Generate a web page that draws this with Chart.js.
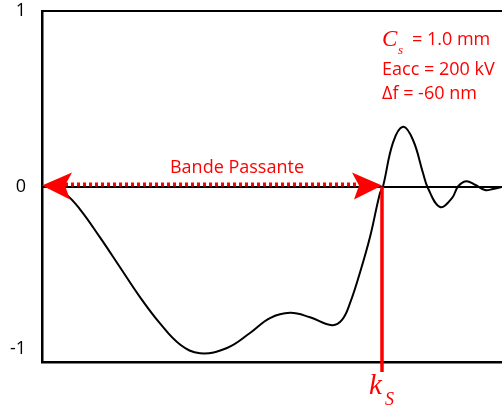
<!DOCTYPE html>
<html>
<head>
<meta charset="utf-8">
<script src="https://cdn.jsdelivr.net/npm/chart.js@4/dist/chart.umd.min.js"></script>
<style>
  html, body { margin: 0; padding: 0; background: #fff; }
  #wrap { width: 502px; height: 407px; }
</style>
</head>
<body>
<div id="wrap"><canvas id="ctf-chart"></canvas></div>
<script>
// fréquence spatiale (unités arbitraires) et fonction de transfert de contraste
const frequences = [0, 0.10, 0.23, 0.38, 0.58, 0.78, 0.98, 1.18, 1.38, 1.58, 1.85, 2.08, 2.28, 2.48, 2.68, 2.90, 3.00, 3.08, 3.18, 3.28, 3.38, 3.41, 3.51, 3.61, 3.71, 3.81, 3.86, 3.98, 4.10, 4.16, 4.24, 4.33, 4.43, 4.51, 4.60];
const ctf = [0, -0.008, -0.04, -0.13, -0.29, -0.46, -0.63, -0.78, -0.90, -0.95, -0.92, -0.835, -0.75, -0.72, -0.745, -0.79, -0.76, -0.665, -0.49, -0.288, -0.037, 0, 0.25, 0.34, 0.265, 0.077, -0.01, -0.117, -0.066, 0, 0.03, 0.01, -0.02, -0.014, -0.003];
const yTicks = [-1, 0, 1];
const ks = 3.40;          // limite de la bande passante
const labelBande = 'Bande Passante';
const parametres = ['= 1.0 mm', 'Eacc = 200 kV', 'Δf = -60 nm'];

const rouge = '#ff0000';
const sans = '"Open Sans", sans-serif';
const serif = '"Liberation Serif", serif';

const annotations = {
    id: 'annotations',
    afterDatasetsDraw(chart) {
        const {ctx, chartArea, scales: {x, y}} = chart;
        const x0 = x.getPixelForValue(0);
        const xk = x.getPixelForValue(ks);
        const y0 = y.getPixelForValue(0);
        ctx.save();

        // ligne verticale k_S
        ctx.strokeStyle = rouge;
        ctx.lineWidth = 3.5;
        ctx.beginPath();
        ctx.moveTo(xk, y0);
        ctx.lineTo(xk, chartArea.bottom + 10);
        ctx.stroke();

        // flèche pointillée
        ctx.lineWidth = 4;
        ctx.setLineDash([3, 3]);
        ctx.beginPath();
        ctx.moveTo(x0 + 23, y0 - 2);
        ctx.lineTo(xk - 23, y0 - 2);
        ctx.stroke();
        ctx.setLineDash([]);

        const tete = (tip, dir) => {
            ctx.beginPath();
            ctx.moveTo(tip, y0 - 1);
            ctx.lineTo(tip + dir * 30, y0 - 14);
            ctx.lineTo(tip + dir * 23, y0 - 1);
            ctx.lineTo(tip + dir * 28, y0 + 13);
            ctx.closePath();
            ctx.fillStyle = rouge;
            ctx.fill();
        };
        tete(x0, 1);
        tete(xk, -1);

        // textes
        ctx.fillStyle = rouge;
        ctx.textBaseline = 'alphabetic';
        ctx.textAlign = 'center';
        ctx.font = '18px ' + sans;
        ctx.fillText(labelBande, x.getPixelForValue(1.95), y0 - 14);

        ctx.textAlign = 'left';
        const top = chartArea.top;
        ctx.font = 'italic 23px ' + serif;
        ctx.fillText('C', xk, top + 35);
        ctx.font = 'italic 13px ' + serif;
        ctx.fillText('s', xk + 16, top + 43);
        ctx.font = '18px ' + sans;
        ctx.fillText(parametres[0], xk + 30, top + 34);
        ctx.fillText(parametres[1], xk, top + 64);
        ctx.fillText(parametres[2], xk, top + 88);

        const bas = chartArea.bottom;
        ctx.font = 'italic 29px ' + serif;
        ctx.fillText('k', xk - 13, bas + 32);
        ctx.font = 'italic 18px ' + serif;
        ctx.fillText('S', xk + 3, bas + 43);

        ctx.restore();
    }
};

new Chart(document.getElementById('ctf-chart'), {
    type: 'line',
    data: {
        datasets: [{
            data: frequences.map((f, i) => ({x: f, y: ctf[i]})),
            borderColor: '#000',
            borderWidth: 2,
            pointRadius: 0,
            fill: false,
            tension: 0.4
        }]
    },
    options: {
        responsive: true,
        maintainAspectRatio: false,
        animation: false,
        layout: {padding: {top: 11, right: 0, left: 0, bottom: 0}},
        plugins: {legend: {display: false}, tooltip: {enabled: false}},
        scales: {
            x: {
                type: 'linear', min: 0, max: 4.6,
                grid: {display: false},
                ticks: {display: false},
                border: {display: true, color: '#000', width: 2.5},
                afterFit: s => { s.height = 45; s.paddingLeft = 0; s.paddingRight = 0; }
            },
            x2: {
                type: 'linear', position: 'top', min: 0, max: 4.6,
                grid: {display: false},
                ticks: {display: false},
                border: {display: true, color: '#000', width: 2},
                afterFit: s => { s.height = 0; s.paddingLeft = 0; s.paddingRight = 0; }
            },
            y: {
                min: -1, max: 1,
                afterBuildTicks: s => { s.ticks = yTicks.map(v => ({value: v})); },
                ticks: {
                    color: '#000',
                    padding: 16,
                    font: {family: sans, size: 18, lineHeight: 1.5},
                    callback: v => v === -1 ? ['-1', ''] : String(v)
                },
                grid: {
                    drawTicks: false,
                    lineWidth: 2,
                    color: c => c.tick && c.tick.value === 0 ? '#000' : 'rgba(0,0,0,0)'
                },
                border: {display: true, color: '#000', width: 2.5},
                afterFit: s => { s.width = 42; s.paddingTop = 0; s.paddingBottom = 0; }
            }
        }
    },
    plugins: [annotations]
});
</script>
</body>
</html>
